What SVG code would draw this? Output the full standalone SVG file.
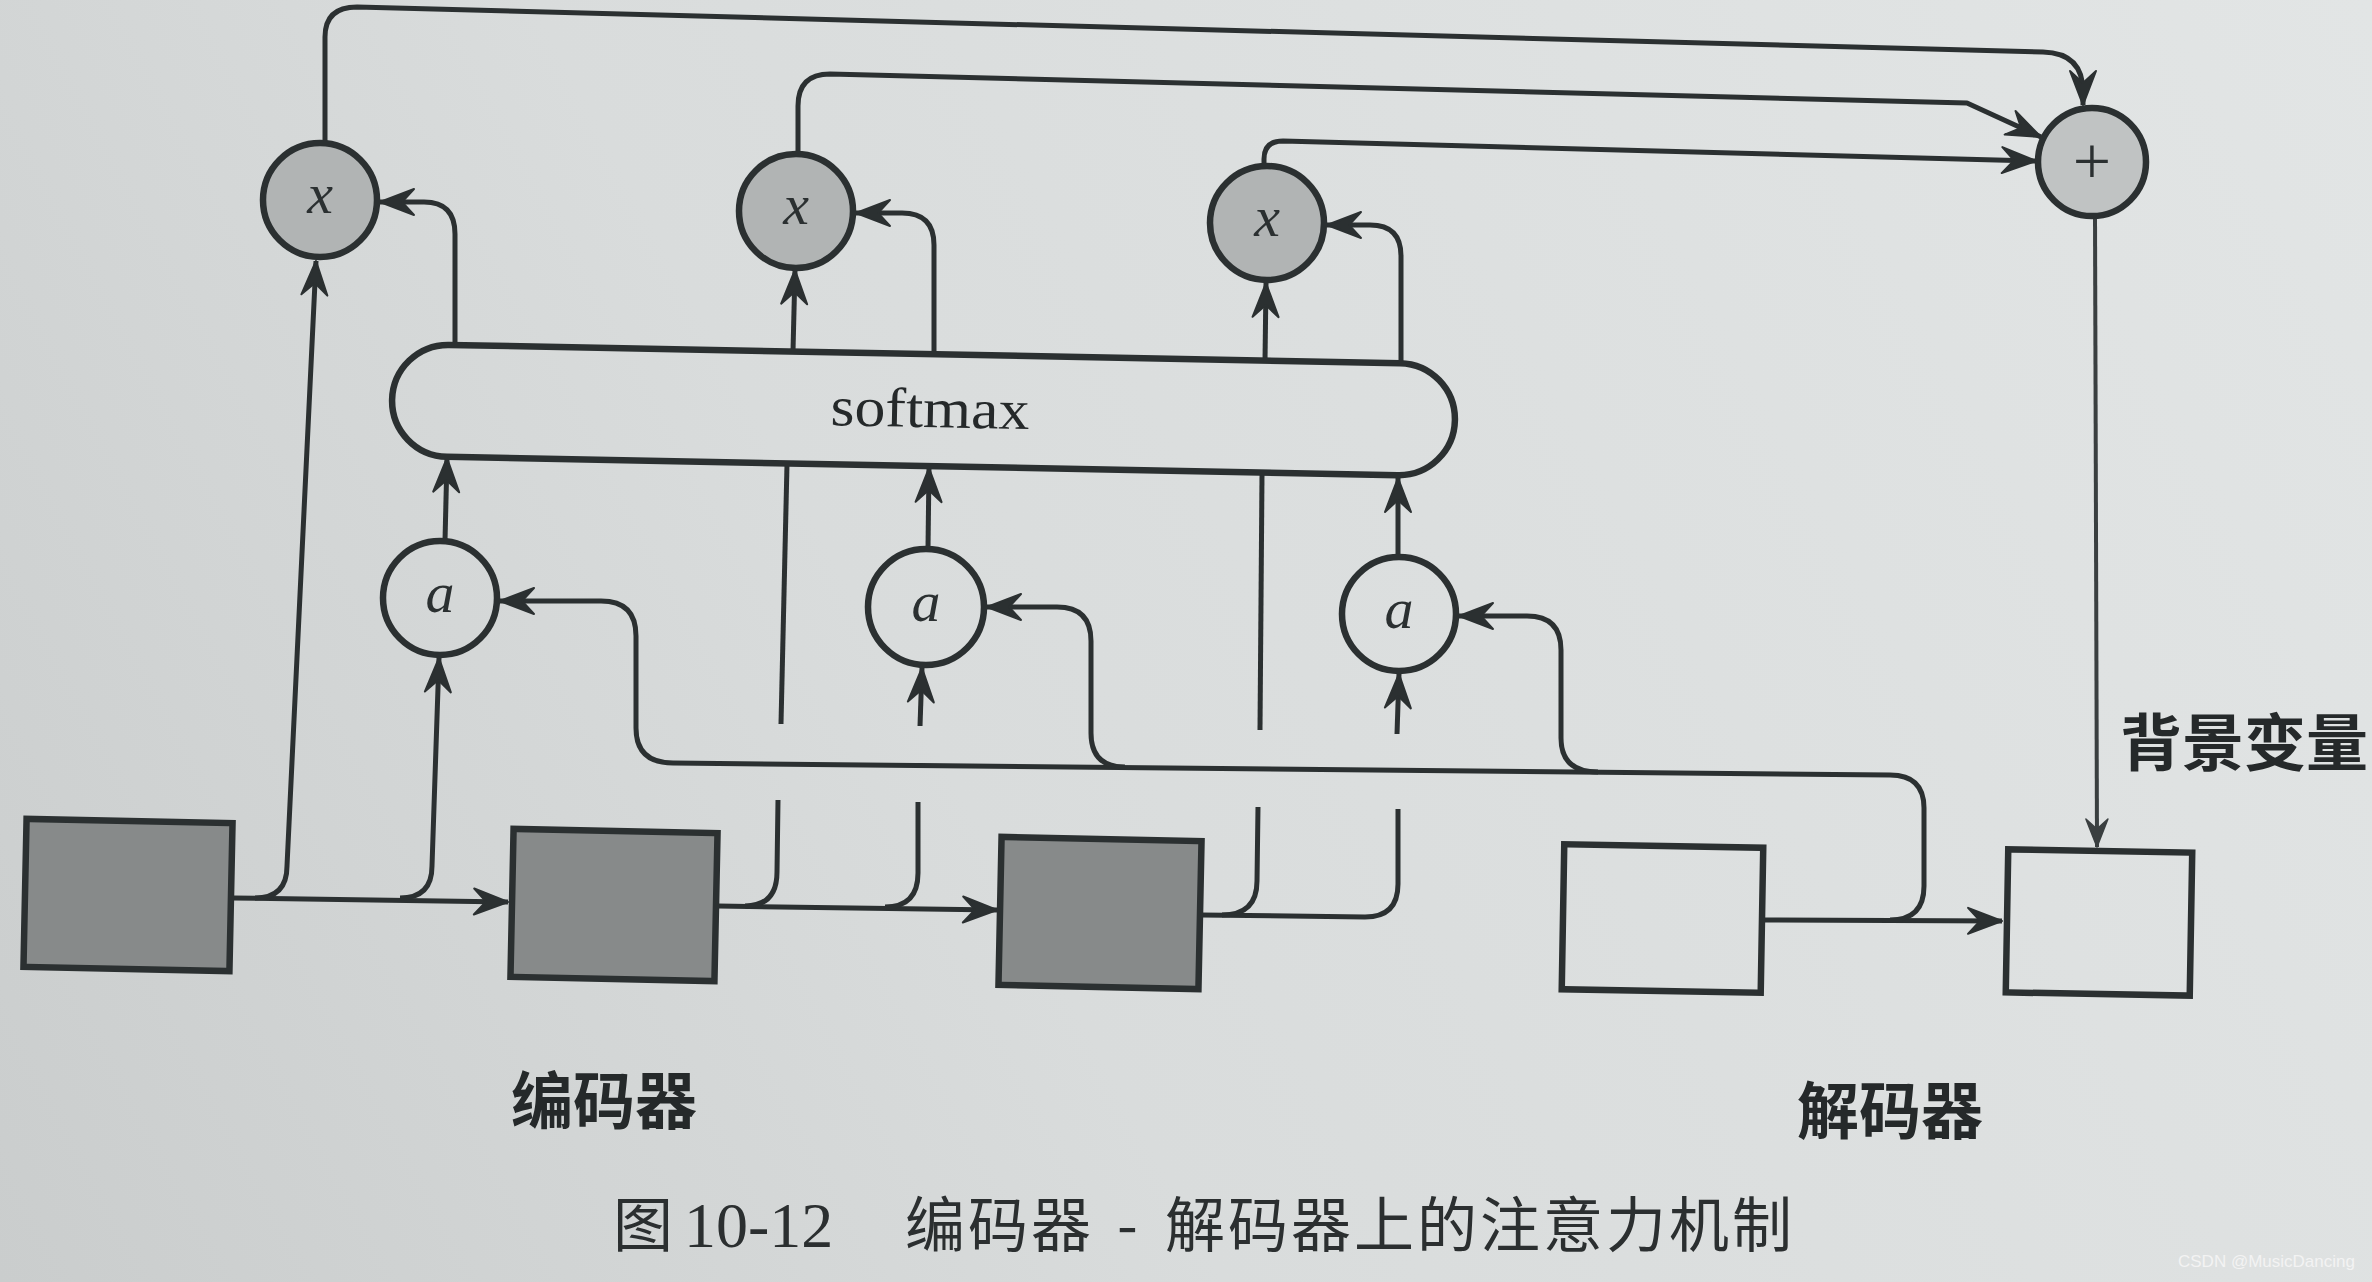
<svg xmlns="http://www.w3.org/2000/svg" width="2372" height="1282" viewBox="0 0 2372 1282">
<defs>
<linearGradient id="bg" gradientUnits="userSpaceOnUse" x1="2372" y1="0" x2="0" y2="1282">
<stop offset="0" stop-color="#e2e5e5"/>
<stop offset="0.6" stop-color="#d9dcdc"/>
<stop offset="1" stop-color="#cacdcd"/>
</linearGradient>
<marker id="ah" markerUnits="userSpaceOnUse" markerWidth="44" markerHeight="34" viewBox="-38 -17 44 34" refX="0" refY="0" orient="auto">
<path d="M0,0 L-34,-13 L-22,0 L-34,13 Z" fill="#2b3031" stroke="#2b3031" stroke-width="2" stroke-linejoin="round"/>
</marker>
<marker id="ahs" markerUnits="userSpaceOnUse" markerWidth="36" markerHeight="28" viewBox="-32 -14 36 28" refX="0" refY="0" orient="auto">
<path d="M0,0 L-28,-11 L-18,0 L-28,11 Z" fill="#3a3f40" stroke="#3a3f40" stroke-width="1.5" stroke-linejoin="round"/>
</marker>
<style>
.ln{fill:none;stroke:#2b3031;stroke-width:5;stroke-linecap:butt;stroke-linejoin:round}
.thin{fill:none;stroke:#3a3f40;stroke-width:4}
.arr{marker-end:url(#ah)}
.nd{stroke:#2b3031;stroke-width:6.5}
.dark{fill:#878a8a}
.gray{fill:#b1b4b4}
.light{fill:url(#bg)}
.sym{font-family:"Liberation Serif",serif;font-style:italic;font-size:58px;fill:#2b3031;text-anchor:middle}
.lbl{font-family:"Noto Sans CJK SC",sans-serif;font-weight:700;font-size:62px;fill:#25292a}
.cap{font-family:"Noto Sans CJK SC",sans-serif;font-weight:400;font-size:60px;fill:#2b2f30}
</style>
</defs>
<rect x="0" y="0" width="2372" height="1282" fill="url(#bg)"/>

<g id="connectors">
<path class="ln arr" d="M325,143 L325,37 Q325,7 357,7 L2043,52 Q2083,53 2083,92 L2083,105"/>
<path class="ln arr" d="M798,154 L798,106 Q798,74 830,74 L1967,103 L2041,137"/>
<path class="ln arr" d="M1264,166 L1264,159 Q1264,141 1283,141 L2036,161"/>
<path class="thin" style="marker-end:url(#ahs)" d="M2095,216 L2097,847"/>
<path class="ln arr" d="M455,344 L455,234 Q455,202 424,202 L380,202"/>
<path class="ln arr" d="M793,351 L795,270"/>
<path class="ln arr" d="M934,354 L934,245 Q934,213 902,213 L856,213"/>
<path class="ln arr" d="M1265,361 L1266,283"/>
<path class="ln arr" d="M1401,364 L1401,256 Q1401,225 1370,225 L1327,225"/>
<path class="ln arr" d="M445,541 L447,458"/>
<path class="ln arr" d="M928,549 L929,468"/>
<path class="ln arr" d="M1398,557 L1398,478"/>
<path class="ln arr" d="M233,898 L508,902"/>
<path class="ln arr" d="M255,898 Q287,898 287,866 L316,261"/>
<path class="ln arr" d="M400,898 Q432,898 432,866 L439,658"/>
<path class="ln arr" d="M718,906 L997,910"/>
<path class="ln" d="M745,906 Q777,906 777,872 L778,800"/>
<path class="ln" d="M781,724 L787,464"/>
<path class="ln" d="M885,907 Q918,907 918,873 L918,802"/>
<path class="ln arr" d="M920,726 L922,668"/>
<path class="ln" d="M1201,915 L1365,917 Q1398,917 1398,884 L1398,809"/>
<path class="ln" d="M1222,915 Q1257,915 1257,881 L1258,807"/>
<path class="ln" d="M1260,730 L1262,474"/>
<path class="ln arr" d="M1397,734 L1399,674"/>
<path class="ln arr" d="M1763,920 L2002,921"/>
<path class="ln arr" d="M1890,920 Q1924,920 1924,886 L1924,808 Q1924,775 1890,775 L673,763 Q636,763 636,728 L636,636 Q636,601 601,601 L500,601"/>
<path class="ln arr" d="M1125,767 Q1091,767 1091,733 L1091,641 Q1091,607 1057,607 L987,607"/>
<path class="ln arr" d="M1598,772 Q1561,772 1561,738 L1561,650 Q1561,616 1527,616 L1459,616"/>
</g>

<g id="softmax" transform="rotate(1.1 923 410)">
<rect class="nd light" x="392" y="354" width="1063" height="112" rx="56" ry="56"/>
<text x="930" y="427" font-family="Liberation Serif, serif" font-size="56" fill="#25292a" text-anchor="middle" textLength="199" lengthAdjust="spacingAndGlyphs">softmax</text>
</g>

<g id="mul1"><circle class="nd gray" cx="320" cy="200" r="57"/><text class="sym" x="320" y="213">x</text></g>
<g id="mul2"><circle class="nd gray" cx="796" cy="211" r="57"/><text class="sym" x="796" y="224">x</text></g>
<g id="mul3"><circle class="nd gray" cx="1267" cy="223" r="57"/><text class="sym" x="1267" y="236">x</text></g>
<g id="plus"><circle class="nd" fill="#c0c3c3" cx="2092" cy="162" r="54"/><text x="2092" y="184" font-family="Liberation Serif, serif" font-size="68" fill="#2b3031" text-anchor="middle">+</text></g>

<g id="att1"><circle class="nd light" cx="440" cy="598" r="57"/><text class="sym" x="440" y="612">a</text></g>
<g id="att2"><circle class="nd light" cx="926" cy="607" r="58"/><text class="sym" x="926" y="621">a</text></g>
<g id="att3"><circle class="nd light" cx="1399" cy="614" r="57"/><text class="sym" x="1399" y="628">a</text></g>

<g id="enc1"><rect class="nd dark" x="25" y="821" width="206" height="148" transform="rotate(1.2 128 895)"/></g>
<g id="enc2"><rect class="nd dark" x="512" y="831" width="204" height="148" transform="rotate(1.2 614 905)"/></g>
<g id="enc3"><rect class="nd dark" x="1000" y="839" width="200" height="148" transform="rotate(1.2 1100 913)"/></g>
<g id="dec1"><rect class="nd light" x="1563" y="846" width="199" height="145" transform="rotate(1 1662 918)"/></g>
<g id="dec2"><rect class="nd light" x="2007" y="851" width="184" height="143" transform="rotate(1 2099 922)"/></g>

<g id="labels">
<text class="lbl" x="511" y="1124">编码器</text>
<text class="lbl" x="1797" y="1134">解码器</text>
<text class="lbl" x="2120" y="766" font-size="60">背景变量</text>
<text class="cap" y="1247"><tspan x="613">图</tspan><tspan x="684" font-family="Liberation Serif, serif" font-size="64">10-12</tspan><tspan x="905" letter-spacing="3">编码器</tspan><tspan x="1117">-</tspan><tspan x="1165" letter-spacing="3">解码器上的注意力机制</tspan></text>
<text x="2178" y="1267" font-family="Liberation Sans, sans-serif" font-size="17" fill="#f3f3f3">CSDN @MusicDancing</text>
</g>
</svg>
